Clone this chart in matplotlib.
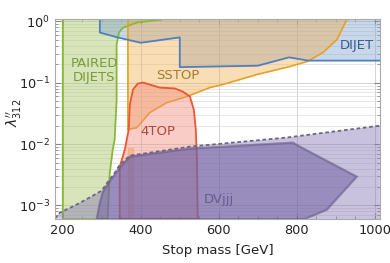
import matplotlib
matplotlib.use("Agg")
import matplotlib.pyplot as plt
from matplotlib.ticker import LogLocator, MultipleLocator

# exclusion contours (stop mass [GeV], lambda''_312)
paired_m = [200, 200, 467, 390, 354, 344, 338, 338, 333, 328, 320, 315]
paired_l = [6e-4, 1.1, 1.1, 0.96, 0.79, 0.66, 0.42, 0.053, 0.0118, 0.0081, 0.0032, 6e-4]

dijet_m = [295, 295, 340, 400, 500, 500, 700, 780, 830, 1013, 1013]
dijet_l = [1.1, 0.66, 0.55, 0.45, 0.55, 0.18, 0.19, 0.26, 0.23, 0.23, 1.1]

sstop_m = [367, 367, 390, 423, 467, 518, 577, 610, 697, 782, 826, 867, 903, 928, 941]
sstop_l = [1.1, 0.0173, 0.0186, 0.0327, 0.0475, 0.0596, 0.0835, 0.0936, 0.136,
           0.184, 0.222, 0.311, 0.507, 1.07, 1.1]
sstop_strip_m = [367, 367, 380, 380]
sstop_strip_l = [6e-4, 0.0088, 0.0088, 6e-4]

top4_m = [346, 346, 359, 369, 372, 380, 392, 405, 423, 449, 487, 508, 526, 536,
          541, 544, 546]
top4_l = [6e-4, 0.0043, 0.0081, 0.0173, 0.044, 0.0774, 0.097, 0.101, 0.0935,
          0.0835, 0.081, 0.0718, 0.0596, 0.0366, 0.0173, 0.0056, 6e-4]

dv_env_m = [180, 192, 231, 269, 300, 315, 333, 346, 372, 526, 774, 1013, 1013]
dv_env_l = [6.1e-4, 7.6e-4, 1.0e-3, 1.35e-3, 1.75e-3, 2.4e-3, 3.4e-3, 4.6e-3,
            6.5e-3, 9.1e-3, 0.0128, 0.020, 6e-4]

dvjjj_m = [287, 295, 303, 320, 346, 372, 526, 790, 808, 954, 877, 820]
dvjjj_l = [6e-4, 1.11e-3, 1.68e-3, 2.45e-3, 4.1e-3, 6.25e-3, 8.45e-3, 0.0106,
           9.1e-3, 2.95e-3, 8.5e-4, 6e-4]

fig = plt.figure(figsize=(3.9, 2.63), dpi=100)
ax = fig.add_axes([0.141, 0.167, 0.833, 0.761])

ax.set_yscale("log")
ax.set_xlim(180, 1013)
ax.set_ylim(6e-4, 1.1)

ax.set_axisbelow(True)
ax.grid(True, which="major", color="#cccccc", lw=0.6)
ax.grid(True, which="minor", axis="y", color="#dddddd", lw=0.5)

# paired dijets
ax.fill(paired_m, paired_l, facecolor="#a9c76a", alpha=0.45, edgecolor="none")

# dijet resonance (fill below the sstop one so the overlap goes tan)
ax.fill(dijet_m, dijet_l, facecolor="#7fa0d0", alpha=0.42, edgecolor="none")

# same-sign tops
ax.fill(sstop_m, sstop_l, facecolor="#f0b050", alpha=0.42, edgecolor="none")
ax.fill(sstop_strip_m, sstop_strip_l, facecolor="#f0b050", alpha=0.42,
        edgecolor="#e8a020", lw=1.0)

ax.fill(paired_m, paired_l, facecolor="none", edgecolor="#8ab833", lw=1.3)
ax.fill(sstop_m, sstop_l, facecolor="none", edgecolor="#e8a020", lw=1.2)
ax.plot(dijet_m[:-1], dijet_l[:-1], color="#4f7fc0", lw=1.3)

# four tops
ax.fill(top4_m, top4_l, facecolor="#f39080", alpha=0.45, edgecolor="none")
ax.fill(top4_m, top4_l, facecolor="none", edgecolor="#ee5533", lw=1.3)

# displaced vertices
ax.fill(dv_env_m, dv_env_l, facecolor="#8878b8", alpha=0.45, edgecolor="none")
ax.plot(dv_env_m[:-1], dv_env_l[:-1], color="#6a6680", lw=1.3, ls=(0, (2, 1.5)))
ax.fill(dvjjj_m, dvjjj_l, facecolor="#6a5a9e", alpha=0.5, edgecolor="#5a4f7a",
        lw=1.6)

ax.text(281, 0.16, "PAIRED\nDIJETS", color="#7a9a3a", fontsize=9.5,
        ha="center", va="center", linespacing=1.1)
ax.text(495, 0.13, "SSTOP", color="#a87a30", fontsize=9.5, ha="center", va="center")
ax.text(955, 0.4, "DIJET", color="#3a5a90", fontsize=9.5, ha="center", va="center")
ax.text(445, 0.016, "4TOP", color="#b04a38", fontsize=9.5, ha="center", va="center")
ax.text(600, 1.25e-3, "DVjjj", color="#6a5a90", fontsize=9.5, ha="center", va="center")

ax.xaxis.set_major_locator(MultipleLocator(200))
ax.xaxis.set_minor_locator(MultipleLocator(50))
ax.yaxis.set_major_locator(LogLocator(base=10))
ax.yaxis.set_minor_locator(LogLocator(base=10, subs=range(2, 10)))
ax.tick_params(which="both", direction="in", top=True, right=True,
               colors="#888888", labelcolor="#222222", labelsize=9.3)
ax.tick_params(which="major", length=4)
ax.tick_params(which="minor", length=2)
for s in ax.spines.values():
    s.set_color("#aaaaaa")

ax.set_xlabel("Stop mass [GeV]", fontsize=9.5, color="#222222", labelpad=5)
ax.set_ylabel(r"$\lambda^{\prime\prime}_{312}$", fontsize=10, color="#222222")
ax.yaxis.set_label_coords(-0.095, 0.53)

fig.savefig("out.png", dpi=100)
